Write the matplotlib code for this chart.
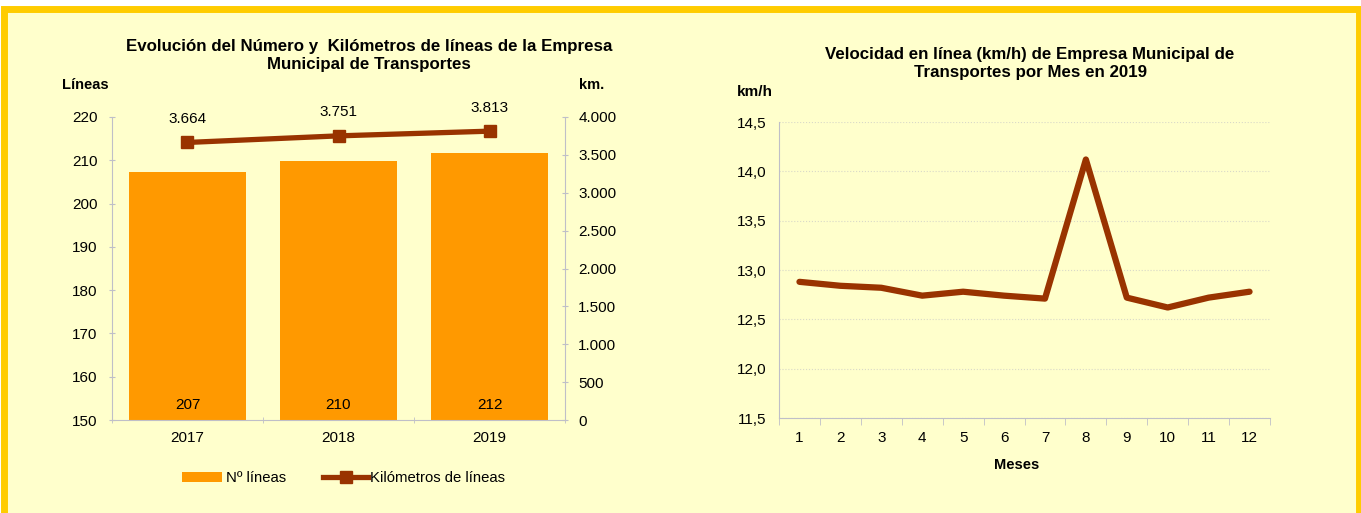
import matplotlib
matplotlib.use('Agg')
import matplotlib.pyplot as plt
from matplotlib.patches import Rectangle
from matplotlib.lines import Line2D

plt.rcParams['font.family'] = ['Liberation Sans', 'DejaVu Sans']

# datos
anios = ['2017', '2018', '2019']
num_lineas = [207.3, 209.8, 211.6]
km_lineas = [3664, 3751, 3813]

meses = [1, 2, 3, 4, 5, 6, 7, 8, 9, 10, 11, 12]
velocidad = [12.88, 12.84, 12.82, 12.74, 12.78, 12.74, 12.71, 14.12, 12.72, 12.62, 12.72, 12.78]

FONDO = '#FFFFCC'
BORDE = '#FFCC00'
NARANJA = '#FF9900'
MARRON = '#993300'
EJE = '#BFBFC8'
TAM = 11

W, H = 1361, 513
fig = plt.figure(figsize=(W / 100, H / 100), dpi=100)
fig.patch.set_facecolor('white')


def px(x, y):
    # pixeles de imagen -> coordenadas de figura
    return x / W, 1 - y / H


def caja(x0, y0, x1, y1):
    return [x0 / W, 1 - y1 / H, (x1 - x0) / W, (y1 - y0) / H]


# marco amarillo
fig.patches.append(Rectangle(px(3.5, 530), 1355.5 / W, 521 / H, transform=fig.transFigure,
                             facecolor=FONDO, edgecolor=BORDE, linewidth=5, zorder=-5))

# ---- grafico izquierdo ----
ax = fig.add_axes(caja(112, 117, 565, 420))
ax.set_facecolor('none')
x = range(len(anios))
barras = ax.bar(x, num_lineas, width=0.77, color=NARANJA, zorder=2)
ax.set_ylim(150, 220)
ax.set_xlim(-0.5, 2.5)
ax.set_xticks(x)
ax.set_xticklabels(anios)
ax.set_xticks([-0.5, 0.5, 1.5, 2.5], minor=True)
ax.tick_params(axis='x', which='major', length=0, pad=8, labelsize=TAM)
ax.tick_params(axis='x', which='minor', length=5, color=EJE, direction='inout')
ax.set_yticks(range(150, 221, 10))
ax.tick_params(axis='y', length=5, color=EJE, direction='inout', pad=8, labelsize=TAM)
for s in ['top', 'right']:
    ax.spines[s].set_visible(False)
for s in ['left', 'bottom']:
    ax.spines[s].set_color(EJE)

for i, v in enumerate(num_lineas):
    ax.text(i, 153.5, f'{v:.0f}', ha='center', va='center', fontsize=TAM, zorder=3)

ax2 = ax.twinx()
ax2.set_ylim(0, 4000)
ax2.plot(x, km_lineas, color=MARRON, linewidth=3.8, marker='s', markersize=9, zorder=4)
ax2.set_yticks(range(0, 4001, 500))
ax2.set_yticklabels([f'{v:,}'.replace(',', '.') for v in range(0, 4001, 500)])
ax2.tick_params(axis='y', length=5, color=EJE, direction='inout', pad=7, labelsize=TAM)
for s in ['top', 'left', 'bottom']:
    ax2.spines[s].set_visible(False)
ax2.spines['right'].set_color(EJE)
for i, v in enumerate(km_lineas):
    ax2.annotate(f'{v:,}'.replace(',', '.'), (i, v), xytext=(0, 17), textcoords='offset points',
                 ha='center', va='center', fontsize=TAM)

fig.text(*px(369, 47), 'Evolución del Número y  Kilómetros de líneas de la Empresa',
         ha='center', va='center', fontsize=12.2, fontweight='bold')
fig.text(*px(369, 65), 'Municipal de Transportes',
         ha='center', va='center', fontsize=12.2, fontweight='bold')
fig.text(*px(85, 85), 'Líneas', ha='center', va='center', fontsize=10.5, fontweight='bold')
fig.text(*px(592, 85), 'km.', ha='center', va='center', fontsize=10.5, fontweight='bold')

# leyenda
fig.patches.append(Rectangle(px(182, 482), 40 / W, 10 / H, transform=fig.transFigure,
                             facecolor=NARANJA, edgecolor='none'))
fig.text(*px(226, 478), 'Nº líneas', ha='left', va='center', fontsize=10.7)
fig.lines.append(Line2D([323 / W, 368 / W], [1 - 477 / H] * 2, transform=fig.transFigure,
                        color=MARRON, linewidth=3.8))
fig.lines.append(Line2D([345.5 / W], [1 - 477 / H], transform=fig.transFigure,
                        color=MARRON, marker='s', markersize=9))
fig.text(*px(370, 478), 'Kilómetros de líneas', ha='left', va='center', fontsize=10.7)

# ---- grafico derecho ----
bx = fig.add_axes(caja(779, 122, 1270, 418))
bx.set_facecolor('none')
bx.plot(meses, velocidad, color=MARRON, linewidth=4.5, solid_joinstyle='round',
        solid_capstyle='round', zorder=3)
bx.set_xlim(0.5, 12.5)
bx.set_ylim(11.5, 14.5)
bx.set_xticks(meses)
bx.set_xticks([m + 0.5 for m in range(0, 13)], minor=True)
bx.tick_params(axis='x', which='major', length=0, pad=9, labelsize=TAM)
bx.tick_params(axis='x', which='minor', length=5, color=EJE, direction='out')
bx.set_yticks([11.5, 12.0, 12.5, 13.0, 13.5, 14.0, 14.5])
bx.set_yticklabels([f'{v:.1f}'.replace('.', ',') for v in [11.5, 12.0, 12.5, 13.0, 13.5, 14.0, 14.5]])
bx.tick_params(axis='y', length=0, pad=9, labelsize=TAM)
bx.grid(axis='y', color='#D9D9C8', linestyle=':', linewidth=0.8)
for s in ['top', 'right']:
    bx.spines[s].set_visible(False)
for s in ['left', 'bottom']:
    bx.spines[s].set_color(EJE)

fig.text(*px(1030, 54), 'Velocidad en línea (km/h) de Empresa Municipal de',
         ha='center', va='center', fontsize=12.2, fontweight='bold')
fig.text(*px(1030, 73), 'Transportes por Mes en 2019',
         ha='center', va='center', fontsize=12.2, fontweight='bold')
fig.text(*px(755, 92), 'km/h', ha='center', va='center', fontsize=11, fontweight='bold')
fig.text(*px(1017, 465), 'Meses', ha='center', va='center', fontsize=10.5, fontweight='bold')

fig.savefig('out.png', dpi=100, facecolor=fig.get_facecolor())
